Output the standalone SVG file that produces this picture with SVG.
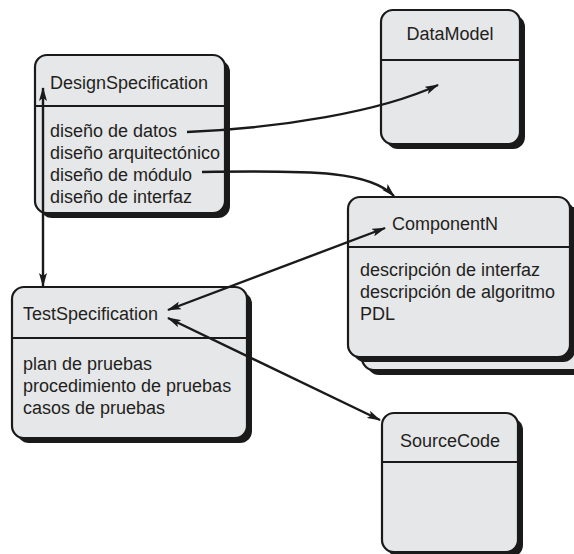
<svg xmlns="http://www.w3.org/2000/svg" width="574" height="554" viewBox="0 0 574 554">
<defs>
<style>
.sh{fill:#1a1a1a}
.bx{fill:#e6e7e9;stroke:#1a1a1a;stroke-width:2.2}
.dv{stroke:#1a1a1a;stroke-width:2.2}
.t{font-family:"Liberation Sans",Arial,sans-serif;font-size:18px;fill:#231f20}
.c{fill:none;stroke:#1a1a1a;stroke-width:2.4}
</style>
<marker id="ah" viewBox="0 0 14 8" refX="13" refY="4" markerWidth="14" markerHeight="8" markerUnits="userSpaceOnUse" orient="auto-start-reverse">
<path d="M0,0 L14,4 L0,8 L3,4 Z" fill="#1a1a1a"/>
</marker>
</defs>
<rect width="574" height="554" fill="#ffffff"/>

<g id="DataModel">
<rect class="sh" x="386" y="15" width="139" height="134" rx="12"/>
<rect class="bx" x="381" y="10" width="139" height="134" rx="12"/>
<line class="dv" x1="381" y1="60" x2="520" y2="60"/>
<text class="t" x="450" y="40" text-anchor="middle">DataModel</text>
</g>

<g id="DesignSpecification">
<rect class="sh" x="40" y="60" width="190" height="158" rx="12"/>
<rect class="bx" x="35" y="55" width="190" height="158" rx="12"/>
<line class="dv" x1="35" y1="106" x2="225" y2="106"/>
<text class="t" x="50" y="89">DesignSpecification</text>
<text class="t" x="50" y="137">diseño de datos</text>
<text class="t" x="50" y="159">diseño arquitectónico</text>
<text class="t" x="50" y="181">diseño de módulo</text>
<text class="t" x="50" y="203">diseño de interfaz</text>
</g>

<g id="ComponentN">
<rect class="sh" x="367" y="213" width="230" height="162" rx="12"/>
<rect class="bx" x="362" y="208" width="230" height="162" rx="12"/>
<line class="dv" x1="362" y1="256" x2="592" y2="256"/>
<rect class="sh" x="353" y="202" width="222" height="160" rx="12"/>
<rect class="bx" x="348" y="197" width="222" height="160" rx="12"/>
<line class="dv" x1="348" y1="247" x2="570" y2="247"/>
<text class="t" x="392" y="230">ComponentN</text>
<text class="t" x="360" y="276">descripción de interfaz</text>
<text class="t" x="360" y="298">descripción de algoritmo</text>
<text class="t" x="360" y="320">PDL</text>
</g>

<g id="TestSpecification">
<rect class="sh" x="17" y="292" width="235" height="151" rx="12"/>
<rect class="bx" x="12" y="287" width="235" height="151" rx="12"/>
<line class="dv" x1="12" y1="338" x2="247" y2="338"/>
<text class="t" x="23" y="320">TestSpecification</text>
<text class="t" x="23" y="370">plan de pruebas</text>
<text class="t" x="23" y="392">procedimiento de pruebas</text>
<text class="t" x="23" y="414">casos de pruebas</text>
</g>

<g id="SourceCode">
<rect class="sh" x="387" y="418" width="136" height="139" rx="12"/>
<rect class="bx" x="382" y="413" width="136" height="139" rx="12"/>
<line class="dv" x1="382" y1="462" x2="518" y2="462"/>
<text class="t" x="450" y="447" text-anchor="middle">SourceCode</text>
</g>

<g id="connectors">
<line class="c" x1="43" y1="88" x2="43" y2="286" marker-start="url(#ah)" marker-end="url(#ah)"/>
<path class="c" d="M187,132 C280,128 380,112 438,85" marker-end="url(#ah)"/>
<path class="c" d="M202,172 C320,170 370,172 394,196" marker-end="url(#ah)"/>
<line class="c" x1="168" y1="310" x2="385" y2="228" marker-start="url(#ah)" marker-end="url(#ah)"/>
<line class="c" x1="168" y1="318" x2="380" y2="420" marker-start="url(#ah)" marker-end="url(#ah)"/>
</g>
</svg>
